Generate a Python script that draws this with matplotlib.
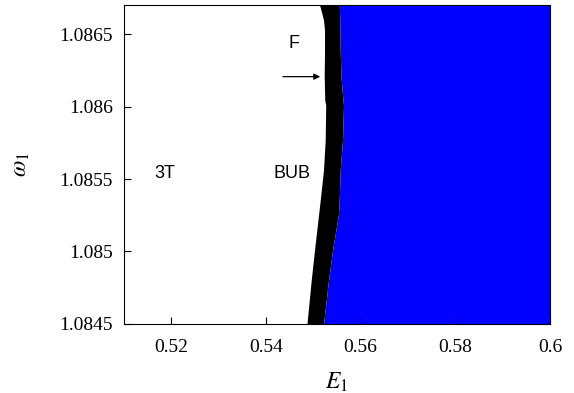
import matplotlib.pyplot as plt

# boundary curves
omega = [1.08670, 1.086666, 1.086597, 1.086528, 1.086390, 1.086217, 1.086045,
         1.086010, 1.085769, 1.085562, 1.085355, 1.085252, 1.085010, 1.084803,
         1.084500]
e_bub = [0.55132, 0.55162, 0.55216, 0.55238, 0.55238, 0.55231, 0.55242,
         0.55263, 0.55252, 0.55216, 0.55147, 0.55111, 0.55026, 0.54957,
         0.54866]
e_f = [0.55548, 0.55554, 0.55559, 0.55563, 0.55569, 0.55584, 0.55626,
       0.55639, 0.55618, 0.55569, 0.55548, 0.55530, 0.55407, 0.55322,
       0.55216]
e_max = 0.6

xticks = [0.52, 0.54, 0.56, 0.58, 0.6]
xticklabels = ['0.52', '0.54', '0.56', '0.58', '0.6']
yticks = [1.0845, 1.085, 1.0855, 1.086, 1.0865]
yticklabels = ['1.0845', '1.085', '1.0855', '1.086', '1.0865']

plt.rcParams['mathtext.fontset'] = 'stix'

fig = plt.figure(figsize=(5.74, 3.93), dpi=100)
ax = fig.add_axes([0.216, 0.1756, 0.742, 0.8116])

ax.fill_betweenx(omega, e_bub, e_f, color='black', lw=0)
ax.fill_betweenx(omega, e_f, e_max, color='#0000ff', lw=0)

ax.set_xlim(0.51, 0.6)
ax.set_ylim(1.0845, 1.0867)
ax.set_xticks(xticks)
ax.set_xticklabels(xticklabels)
ax.set_yticks(yticks)
ax.set_yticklabels(yticklabels)
ax.tick_params(direction='in', length=5, width=0.8, labelsize=14)
ax.tick_params(axis='x', pad=11)
ax.tick_params(axis='y', pad=8)
for lab in ax.get_xticklabels() + ax.get_yticklabels():
    lab.set_family('Liberation Serif')

ax.set_xlabel(r'$E_1$', fontsize=17, labelpad=10)
ax.set_ylabel(r'$\omega_1$', fontsize=17, labelpad=20)

ax.text(0.51852, 1.085539, '3T', family='Liberation Sans', fontsize=13,
        ha='center', va='center')
ax.text(0.54549, 1.085539, 'BUB', family='Liberation Sans', fontsize=13,
        ha='center', va='center')
ax.text(0.54583, 1.086436, 'F', family='Liberation Sans', fontsize=13,
        ha='center', va='center')
ax.annotate('', xy=(0.55147, 1.086206), xytext=(0.54359, 1.086206),
            arrowprops=dict(arrowstyle='-|>', color='black', lw=0.9,
                            mutation_scale=9, shrinkA=0, shrinkB=0))

for s in ax.spines.values():
    s.set_linewidth(0.8)

fig.savefig('out.png', dpi=100)
